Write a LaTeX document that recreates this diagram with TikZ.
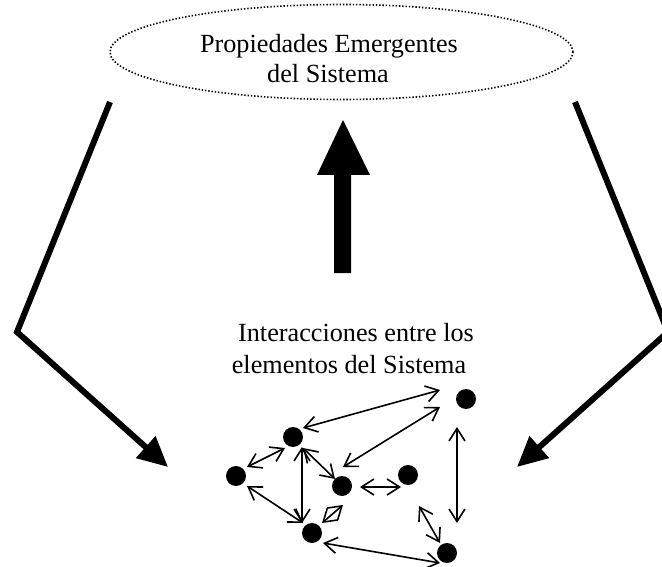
\documentclass[tikz,border=0pt]{standalone}
\usepackage{fontspec}
\setmainfont{Liberation Serif}
\usetikzlibrary{arrows.meta,shapes.geometric,calc}
\begin{document}
\begin{tikzpicture}[x=1pt,y=-1pt,
  dot/.style={circle,fill=black,inner sep=0pt,minimum size=20pt},
  dbl/.style={line width=1.6pt,{Straight Barb[length=12.5pt,width=16pt]}-{Straight Barb[length=12.5pt,width=16pt]}},
  thickarr/.style={line width=6pt,-{Triangle[length=30pt,width=28pt]}},
  lbl/.style={font=\fontsize{26.2}{30}\selectfont,inner sep=0pt,anchor=base},
  cloud/.style={ellipse,draw,line width=1.6pt,dash pattern=on 1.4pt off 1.9pt,inner sep=0pt,minimum width=463pt,minimum height=95pt}
]
\useasboundingbox (0,0) rectangle (662,567);

% top ellipse and its text
\node[cloud] (P) at (341.5,52) {};
\node[lbl] (t1) at (329,53) {Propiedades Emergentes};
\node[lbl] (t2) at (328,83) {del Sistema};

% middle text
\node[lbl] (m1) at (356,341) {Interacciones entre los};
\node[lbl] (m2) at (349,373) {elementos del Sistema};

% big upward arrow
\fill (334,273) -- (334,175) -- (317,175) -- (343,120) -- (370,175) -- (351,175) -- (351,273) -- cycle;

% side bent arrows
\coordinate (L1) at (110,102);
\coordinate (L2) at (17,332);
\coordinate (L3) at (168,467);
\coordinate (R1) at (575,102);
\coordinate (R2) at (668,332);
\coordinate (R3) at (517,467);
\draw[thickarr] (L1) -- (L2) -- (L3);
\draw[thickarr] (R1) -- (R2) -- (R3);

% elements
\node[dot] (A) at (236,476) {};
\node[dot] (B) at (293,437) {};
\node[dot] (C) at (342,486) {};
\node[dot] (D) at (312,533) {};
\node[dot] (E) at (408,475) {};
\node[dot] (F) at (466,399) {};
\node[dot] (G) at (447,553) {};

% interactions
\draw[dbl] ($(B)+(10,-9)$) -- ($(F)+(-26,-9)$);
\draw[dbl] ($(C)+(1,-19)$) -- ($(F)+(-26,8)$);
\draw[dbl] ($(A)+(11,-9)$) -- ($(B)+(-8,11)$);
\draw[dbl] ($(B)+(9,10)$) -- ($(D)+(-10,-10)$);
\draw[dbl] ($(B)+(10,11)$) -- ($(C)+(-7,-7)$);
\draw[dbl] ($(A)+(11,10)$) -- ($(D)+(-9,-10)$);
\draw[dbl] ($(C)+(1,19)$) -- ($(D)+(10,-10)$);
\draw[dbl] ($(C)+(18,1)$) -- ($(E)+(-7,12)$);
\draw[dbl] ($(F)+(-9,28)$) -- ($(G)+(10,-30)$);
\draw[dbl] ($(E)+(11,31)$) -- ($(G)+(-7,-10)$);
\draw[dbl] ($(D)+(11,10)$) -- ($(G)+(-7,10)$);
\end{tikzpicture}
\end{document}
